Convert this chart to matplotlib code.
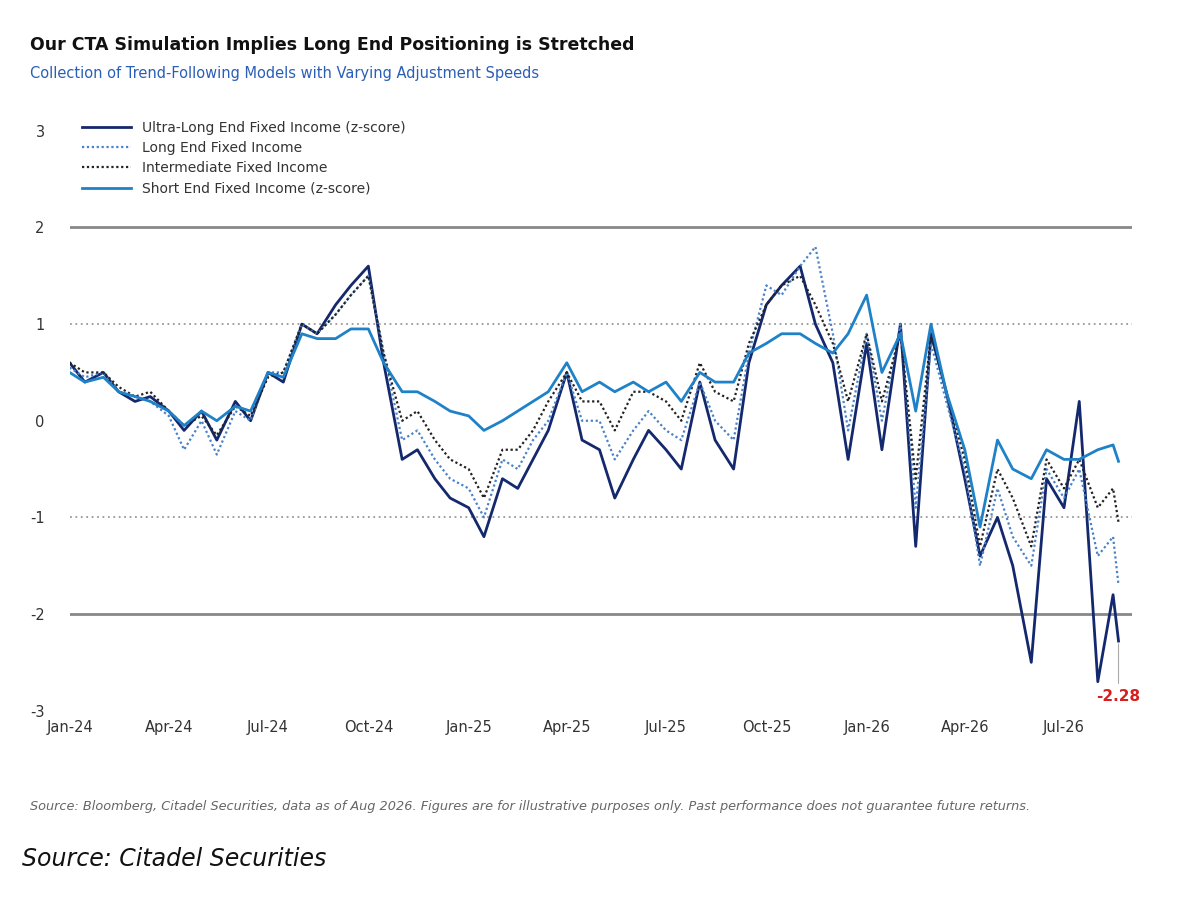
import matplotlib
matplotlib.use("Agg")
import matplotlib.pyplot as plt
import matplotlib.dates as mdates
import pandas as pd

# semi-monthly readings (1st and 15th), Jan-24 .. Aug-26, plus last print
dates = list(pd.date_range("2024-01-01", "2026-08-15", freq="SMS")) + [pd.Timestamp("2026-08-20")]

ultra_long = [
    0.6, 0.4, 0.5, 0.3, 0.2, 0.25, 0.1, -0.1, 0.1, -0.2, 0.2, 0.0, 0.5, 0.4, 1.0, 0.9, 1.2, 1.4, 1.6, 0.6, -0.4, -0.3, -0.6, -0.8,
    -0.9, -1.2, -0.6, -0.7, -0.4, -0.1, 0.5, -0.2, -0.3, -0.8, -0.4, -0.1, -0.3, -0.5, 0.4, -0.2, -0.5, 0.6, 1.2, 1.4, 1.6, 1.0, 0.6, -0.4,
    0.8, -0.3, 1.0, -1.3, 0.9, 0.3, -0.6, -1.4, -1.0, -1.5, -2.5, -0.6, -0.9, 0.2, -2.7, -1.8, -2.28,
]
long_end = [
    0.55, 0.45, 0.5, 0.3, 0.25, 0.2, 0.05, -0.3, 0.0, -0.35, 0.1, 0.0, 0.5, 0.5, 1.0, 0.9, 1.1, 1.3, 1.5, 0.7, -0.2, -0.1, -0.4, -0.6,
    -0.7, -1.0, -0.4, -0.5, -0.2, 0.0, 0.5, 0.0, 0.0, -0.4, -0.1, 0.1, -0.1, -0.2, 0.4, 0.0, -0.2, 0.7, 1.4, 1.3, 1.6, 1.8, 0.9, -0.1,
    0.9, 0.0, 1.0, -0.9, 0.8, 0.2, -0.5, -1.5, -0.7, -1.2, -1.5, -0.5, -0.8, -0.5, -1.4, -1.2, -1.7,
]
intermediate = [
    0.6, 0.5, 0.5, 0.35, 0.25, 0.3, 0.1, -0.05, 0.05, -0.15, 0.15, 0.05, 0.45, 0.5, 1.0, 0.9, 1.1, 1.3, 1.5, 0.7, 0.0, 0.1, -0.2, -0.4,
    -0.5, -0.8, -0.3, -0.3, -0.1, 0.2, 0.5, 0.2, 0.2, -0.1, 0.3, 0.3, 0.2, 0.0, 0.6, 0.3, 0.2, 0.8, 1.2, 1.4, 1.5, 1.2, 0.8, 0.2,
    0.9, 0.2, 0.9, -0.6, 0.9, 0.3, -0.4, -1.3, -0.5, -0.8, -1.3, -0.4, -0.7, -0.4, -0.9, -0.7, -1.05,
]
short_end = [
    0.5, 0.4, 0.45, 0.3, 0.25, 0.2, 0.1, -0.05, 0.1, 0.0, 0.15, 0.1, 0.5, 0.45, 0.9, 0.85, 0.85, 0.95, 0.95, 0.6, 0.3, 0.3, 0.2, 0.1,
    0.05, -0.1, 0.0, 0.1, 0.2, 0.3, 0.6, 0.3, 0.4, 0.3, 0.4, 0.3, 0.4, 0.2, 0.5, 0.4, 0.4, 0.7, 0.8, 0.9, 0.9, 0.8, 0.7, 0.9,
    1.3, 0.5, 0.9, 0.1, 1.0, 0.3, -0.3, -1.1, -0.2, -0.5, -0.6, -0.3, -0.4, -0.4, -0.3, -0.25, -0.42,
]

plt.rcParams["axes.unicode_minus"] = False

fig = plt.figure(figsize=(12, 9), dpi=100)
ax = fig.add_axes([0.058, 0.205, 0.885, 0.655])

ax.axhline(2, color="#888888", lw=2)
ax.axhline(-2, color="#888888", lw=2)
ax.axhline(1, color="#999999", lw=1.3, ls=(0, (1, 2)))
ax.axhline(-1, color="#999999", lw=1.3, ls=(0, (1, 2)))

ax.plot(dates, ultra_long, color="#14286e", lw=2.0, label="Ultra-Long End Fixed Income (z-score)")
ax.plot(dates, long_end, color="#4a82c8", lw=1.6, ls=(0, (1, 1.2)), label="Long End Fixed Income")
ax.plot(dates, intermediate, color="#222222", lw=1.6, ls=(0, (1, 1.2)), label="Intermediate Fixed Income")
ax.plot(dates, short_end, color="#1f82c8", lw=2.0, label="Short End Fixed Income (z-score)")

ax.annotate("-2.28", xy=(dates[-1], ultra_long[-1]), xytext=(dates[-1], -2.9),
            color="#d62020", fontweight="bold", fontsize=11, ha="center",
            arrowprops=dict(arrowstyle="-", color="#aaaaaa", lw=0.8))

ax.set_ylim(-3.05, 3.05)
ax.set_yticks([-3, -2, -1, 0, 1, 2, 3])
ax.set_xlim(pd.Timestamp("2024-01-01"), pd.Timestamp("2026-09-01"))
ax.xaxis.set_major_locator(mdates.MonthLocator(bymonth=[1, 4, 7, 10]))
ax.xaxis.set_major_formatter(mdates.DateFormatter("%b-%y"))
for s in ax.spines.values():
    s.set_visible(False)
ax.tick_params(length=0, labelsize=10.5, colors="#333333")
ax.tick_params(axis="y", pad=18)

ax.legend(loc="upper left", bbox_to_anchor=(0.0, 1.03), frameon=False, fontsize=10,
          handlelength=3.5, labelspacing=0.45, labelcolor="#333333")

fig.text(0.025, 0.945, "Our CTA Simulation Implies Long End Positioning is Stretched",
         fontsize=12.5, fontweight="bold", color="#111111")
fig.text(0.025, 0.913, "Collection of Trend-Following Models with Varying Adjustment Speeds",
         fontsize=10.5, color="#2a5fb8")
fig.text(0.025, 0.1, "Source: Bloomberg, Citadel Securities, data as of Aug 2026. Figures are for illustrative purposes only. Past performance does not guarantee future returns.",
         fontsize=9.3, style="italic", color="#666666")
fig.text(0.018, 0.038, "Source: Citadel Securities", fontsize=17, style="italic", color="#111111")

fig.savefig("out.png", dpi=100)
